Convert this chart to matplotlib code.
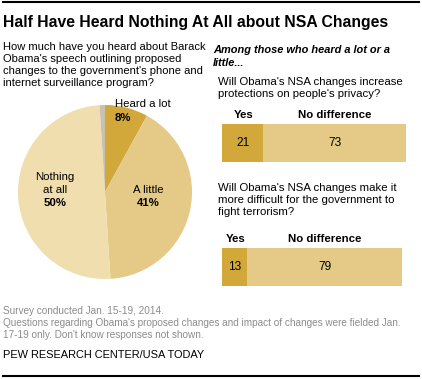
import matplotlib
matplotlib.use("Agg")
import matplotlib.pyplot as plt
from matplotlib.lines import Line2D

W, H = 422, 379

# data
pie_labels = ["Heard a lot", "A little", "Nothing at all", "Don't know"]
pie_values = [8, 41, 50, 1]
bar_yes = [21, 13]
bar_nodiff = [73, 79]

DARK = "#d2a83a"
MID = "#e4ca86"
LIGHT = "#f1deae"
GRAY = "#c9c1b2"
FOOT = "#8c8c8c"

plt.rcParams["font.family"] = ["Liberation Sans", "DejaVu Sans"]

fig = plt.figure(figsize=(W / 100, H / 100), dpi=100)
fig.patch.set_facecolor("white")


def fx(x):
    return x / W


def fy(y):
    return 1 - y / H


def txt(x, y, s, **kw):
    kw.setdefault("va", "center")
    kw.setdefault("ha", "left")
    fig.text(fx(x), fy(y), s, **kw)


# frame lines
fig.add_artist(Line2D([fx(3), fx(419)], [fy(2), fy(2)], color="black", lw=1.5))
fig.add_artist(Line2D([fx(3), fx(419)], [fy(376), fy(376)], color="black", lw=1.5))

txt(3, 22, "Half Have Heard Nothing At All about NSA Changes", fontsize=11.3,
    fontweight="bold")

q_lines = ["How much have you heard about Barack",
           "Obama's speech outlining proposed",
           "changes to the government's phone and",
           "internet surveillance program?"]
for i, s in enumerate(q_lines):
    txt(3, 47 + i * 12, s, fontsize=8.0)

txt(213, 50, "Among those who heard a lot or a", fontsize=7.9,
    fontweight="bold", style="italic")
txt(213, 63, "little...", fontsize=7.9, fontweight="bold", style="italic")

# pie
cx, cy, r = 105, 192, 87
axp = fig.add_axes([fx(cx - r), fy(cy + r), 2 * r / W, 2 * r / H])
axp.pie(pie_values, colors=[DARK, MID, LIGHT, GRAY], startangle=90,
        counterclock=False, wedgeprops=dict(linewidth=0))
axp.set_aspect("auto")
axp.set_xlim(-1, 1)
axp.set_ylim(-1, 1)
axp.axis("off")

txt(143, 104, "Heard a lot", fontsize=8.2, ha="center")
txt(123, 118, f"{pie_values[0]}%", fontsize=8.2, ha="center", fontweight="bold")
txt(55, 177, "Nothing", fontsize=8.2, ha="center")
txt(55, 190, "at all", fontsize=8.2, ha="center")
txt(55, 203, f"{pie_values[2]}%", fontsize=8.2, ha="center", fontweight="bold")
txt(148, 190, "A little", fontsize=8.2, ha="center")
txt(148, 203, f"{pie_values[1]}%", fontsize=8.2, ha="center", fontweight="bold")

# bars
questions = [["Will Obama's NSA changes increase",
              "protections on people's privacy?"],
             ["Will Obama's NSA changes make it",
              "more difficult for the government to",
              "fight terrorism?"]]
q_top = [82, 188]
hdr_y = [115, 239]
bar_top = [124, 248]
bar_h = 38
x0 = 222
unit = 1.96

for k in range(2):
    for i, s in enumerate(questions[k]):
        txt(218, q_top[k] + i * 12, s, fontsize=8.2)
    axb = fig.add_axes([fx(x0), fy(bar_top[k] + bar_h), 100 * unit / W, bar_h / H])
    axb.barh([0], [bar_yes[k]], color=DARK, height=1)
    axb.barh([0], [bar_nodiff[k]], left=[bar_yes[k]], color=MID, height=1)
    axb.set_xlim(0, 100)
    axb.set_ylim(-0.5, 0.5)
    axb.axis("off")
    axb.text(bar_yes[k] / 2, 0, str(bar_yes[k]), ha="center", va="center",
             fontsize=8.6)
    axb.text(bar_yes[k] + bar_nodiff[k] / 2, 0, str(bar_nodiff[k]),
             ha="center", va="center", fontsize=8.6)
    txt(x0 + bar_yes[k] / 2 * unit + 1, hdr_y[k], "Yes", fontsize=8.2,
        ha="center", fontweight="bold")
    txt(x0 + (bar_yes[k] + bar_nodiff[k] / 2) * unit, hdr_y[k], "No difference",
        fontsize=8.2, ha="center", fontweight="bold")

# footnotes
txt(3, 311, "Survey conducted Jan. 15-19, 2014.", fontsize=7.2, color=FOOT)
txt(3, 323, "Questions regarding Obama's proposed changes and impact of changes were fielded Jan.",
    fontsize=7.2, color=FOOT)
txt(3, 335, "17-19 only. Don't know responses not shown.", fontsize=7.2, color=FOOT)
txt(3, 355, "PEW RESEARCH CENTER/USA TODAY", fontsize=7.9)

fig.savefig("out.png", dpi=100)
